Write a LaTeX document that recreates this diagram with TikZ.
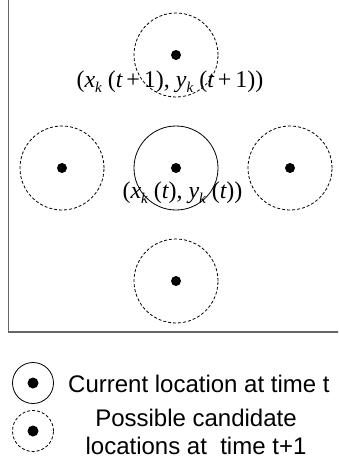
\documentclass[tikz,border=0pt]{standalone}
\usepackage{fontspec}
\setmainfont{Liberation Sans}
\newfontfamily\timesf{Liberation Serif}
\newcommand\ksub{\raisebox{-5pt}{\fontsize{15}{15}\selectfont\itshape k}}
\begin{document}
\begin{tikzpicture}[x=1pt,y=-1pt,
  cur/.style={draw=black,line width=0.8pt,circle,minimum size=84pt,inner sep=0pt},
  cand/.style={cur,dash pattern=on 3pt off 2pt},
  lcur/.style={draw=black,line width=0.8pt,circle,minimum size=41pt,inner sep=0pt},
  lcand/.style={lcur,dash pattern=on 3pt off 2pt},
  frame/.style={draw=black!60,line width=1.2pt},
  mathlbl/.style={font=\timesf\fontsize{24}{28}\selectfont,inner sep=0pt,anchor=base},
  legtxt/.style={font=\fontsize{24}{28}\selectfont,inner sep=0pt,anchor=base}
]
\clip (0,0) rectangle (338,469);
% frame (only left and bottom edges visible)
\coordinate (ftl) at (8.5,-5);
\coordinate (fbl) at (8.5,332);
\coordinate (fbr) at (345,332);
\draw[frame] (ftl) -- (fbl) -- (fbr);
% circles
\node[cand] (up) at (176,55) {};
\node[cand] (left) at (62,168) {};
\node[cur] (mid) at (176,168) {};
\node[cand] (right) at (290,168) {};
\node[cand] (down) at (176,281) {};
\foreach \n in {up,left,mid,right,down} \fill (\n.center) circle (5pt);
% labels
\node[mathlbl] (l1) at (170,87) {({\itshape x}\ksub\ ({\itshape t}\,+\,1), {\itshape y}\ksub\ ({\itshape t}\,+\,1))};
\node[mathlbl] (l2) at (182.5,198.5) {({\itshape x}\ksub\ ({\itshape t}), {\itshape y}\ksub\ ({\itshape t}))};
% legend
\node[lcur] (lg1) at (33,383) {};
\fill (lg1.center) circle (5.5pt);
\node[lcand] (lg2) at (33,431) {};
\fill (lg2.center) circle (5.5pt);
\node[legtxt,anchor=base west] (t1) at (68,392) {Current location at time t};
\node[legtxt] (t2) at (196,426) {Possible candidate};
\node[legtxt] (t3) at (196,454) {locations at\ \ time t+1};
\end{tikzpicture}
\end{document}
